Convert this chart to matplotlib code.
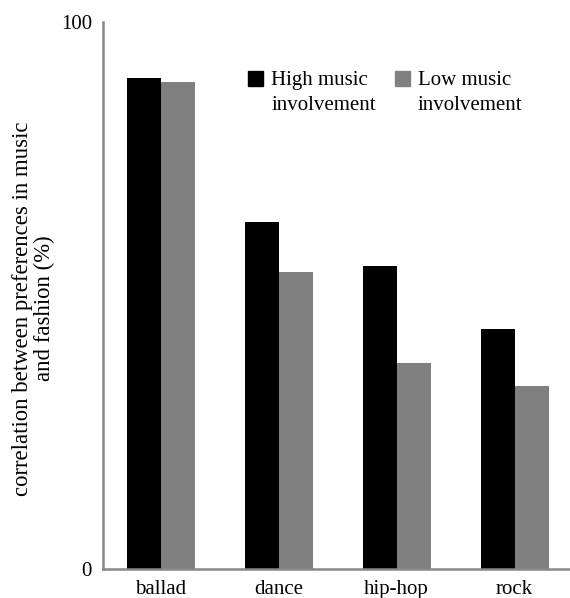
import numpy as np
import matplotlib
matplotlib.use('Agg')
import matplotlib.pyplot as plt
from matplotlib.patches import Patch, Rectangle
from matplotlib.legend_handler import HandlerPatch

plt.rcParams['font.family'] = ['Liberation Serif', 'DejaVu Serif']
plt.rcParams['font.size'] = 15

# data
genres = ['ballad', 'dance', 'hip-hop', 'rock']
high_involvement = [89.8, 63.4, 55.4, 43.9]
low_involvement = [89.0, 54.3, 37.7, 33.5]
series_labels = ['High music\ninvolvement', 'Low music\ninvolvement']

black = '#000000'
grey = '#808080'

fig = plt.figure(figsize=(5.70, 5.98), dpi=100)
ax = fig.add_axes([0.1807, 0.0485, 0.8193, 0.9147])

x = np.arange(len(genres))
w = 0.288
ax.bar(x - w / 2, high_involvement, w, color=black)
ax.bar(x + w / 2, low_involvement, w, color=grey)

ax.set_xlim(-0.49, 3.47)
ax.set_ylim(0, 100)
ax.set_yticks([0, 100])
ax.set_xticks(x)
ax.set_xticklabels(genres)
ax.tick_params(length=0)
ax.tick_params(axis='y', pad=8)
ax.tick_params(axis='x', pad=8)

for s in ['top', 'right']:
    ax.spines[s].set_visible(False)
for s in ['left', 'bottom']:
    ax.spines[s].set_color('#888888')
    ax.spines[s].set_linewidth(1.8)

fig.text(0.058, 0.484, 'correlation between preferences in music\nand fashion (%)',
         rotation=90, ha='center', va='center', multialignment='center',
         linespacing=1.05, fontsize=16.4)


# square sits next to the first line of the label, not centred on both
def top_square(legend, orig_handle, xdescent, ydescent, width, height, fontsize):
    return Rectangle((-xdescent, -ydescent + 0.7 * fontsize), width, height)


handles = [Patch(color=black), Patch(color=grey)]
leg = ax.legend(handles, series_labels, ncol=2, frameon=False,
                loc='upper left', bbox_to_anchor=(248 / 570, 1 - 71 / 598),
                bbox_transform=fig.transFigure, borderaxespad=0, borderpad=0,
                handlelength=0.72, handleheight=0.72, handletextpad=0.4,
                columnspacing=0.9, labelspacing=0.2,
                handler_map={Patch: HandlerPatch(patch_func=top_square)})
for t in leg.get_texts():
    t.set_linespacing(1.45)

fig.savefig('out.png', dpi=100)
